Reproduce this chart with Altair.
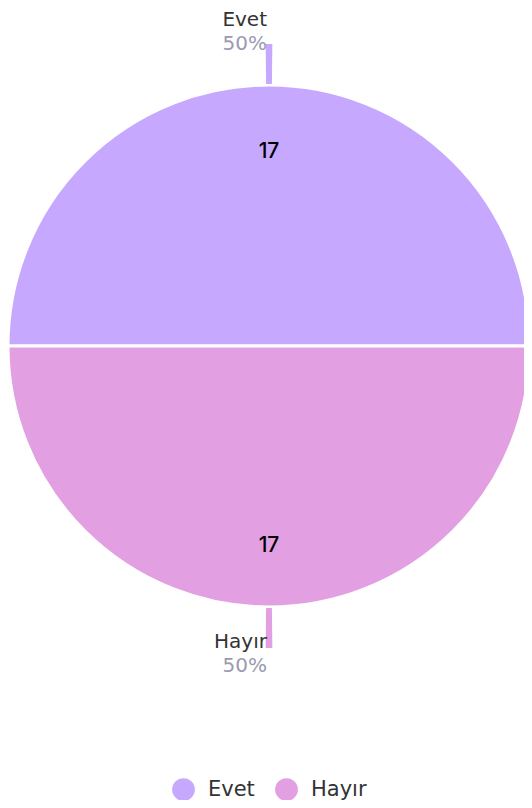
import math
import altair as alt
import pandas as pd

categories = ["Evet", "Hayır"]
counts = [17, 17]
colors = ["#C6A9FE", "#E2A0E2"]

df = pd.DataFrame({"category": categories, "value": counts})

FONT = "DejaVu Sans"
NUM_FONT = "Inter"
W, H = 516, 792
CX, CY = 261, 338
OUTER = 261

base = (
    alt.Chart(df)
    .transform_joinaggregate(total="sum(value)")
    .transform_calculate(pct="format(datum.value / datum.total, '.0%')")
    .transform_window(cum="sum(value)", sort=[{"field": "category"}])
    .transform_calculate(mid="datum.cum - datum.value / 2")
)

theta_scale = alt.Scale(range=[-math.pi / 2, 3 * math.pi / 2])
color_scale = alt.Scale(domain=categories, range=colors)
center = dict(x=alt.value(CX), y=alt.value(CY))

pie = base.mark_arc(outerRadius=OUTER, stroke="white", strokeWidth=3).encode(
    theta=alt.Theta("value:Q", stack=True, scale=theta_scale),
    color=alt.Color(
        "category:N",
        scale=color_scale,
        legend=alt.Legend(
            title=None,
            orient="none",
            legendX=164,
            legendY=770,
            direction="horizontal",
            symbolType="circle",
            symbolSize=520,
            symbolStrokeWidth=0,
            labelFont=FONT,
            labelFontSize=21,
            labelColor="#333333",
            labelOffset=13,
            columnPadding=20,
        ),
    ),
    **center,
)

leaders = (
    base.transform_calculate(t1="datum.mid - 0.06", t2="datum.mid + 0.06")
    .mark_arc(radius=OUTER + 1, radius2=302, strokeWidth=0)
    .encode(
        theta=alt.Theta("t1:Q", scale=theta_scale),
        theta2="t2:Q",
        color=alt.Color("category:N", scale=color_scale, legend=None),
        **center,
    )
)


def txt(cat, field, radius, size, col, font, align="center", weight="normal"):
    return (
        base.transform_filter(alt.datum.category == cat)
        .mark_text(
            radius=radius, font=font, fontSize=size, color=col, align=align,
            baseline="middle", dx=-2 if align == "right" else 0, fontWeight=weight,
        )
        .encode(
            theta=alt.Theta("mid:Q", scale=theta_scale),
            text=alt.Text(field),
            **center,
        )
    )


inner_top = txt("Evet", "value:Q", 194, 21, "#000000", NUM_FONT, weight=500)
inner_bot = txt("Hayır", "value:Q", 200, 21, "#000000", NUM_FONT, weight=500)
name_top = txt("Evet", "category:N", 326, 20, "#333333", FONT, "right")
pct_top = txt("Evet", "pct:N", 302, 20, "#9a9ab0", FONT, "right")
name_bot = txt("Hayır", "category:N", 296, 20, "#333333", FONT, "right")
pct_bot = txt("Hayır", "pct:N", 320, 20, "#9a9ab0", FONT, "right")

chart = (
    alt.layer(pie, leaders, inner_top, inner_bot, name_top, pct_top, name_bot, pct_bot)
    .properties(width=W, height=H, padding=0, autosize=alt.AutoSizeParams(type="none"))
    .configure_view(stroke=None)
)

chart.save("out.html", embed_options={"renderer": "svg", "actions": False})
